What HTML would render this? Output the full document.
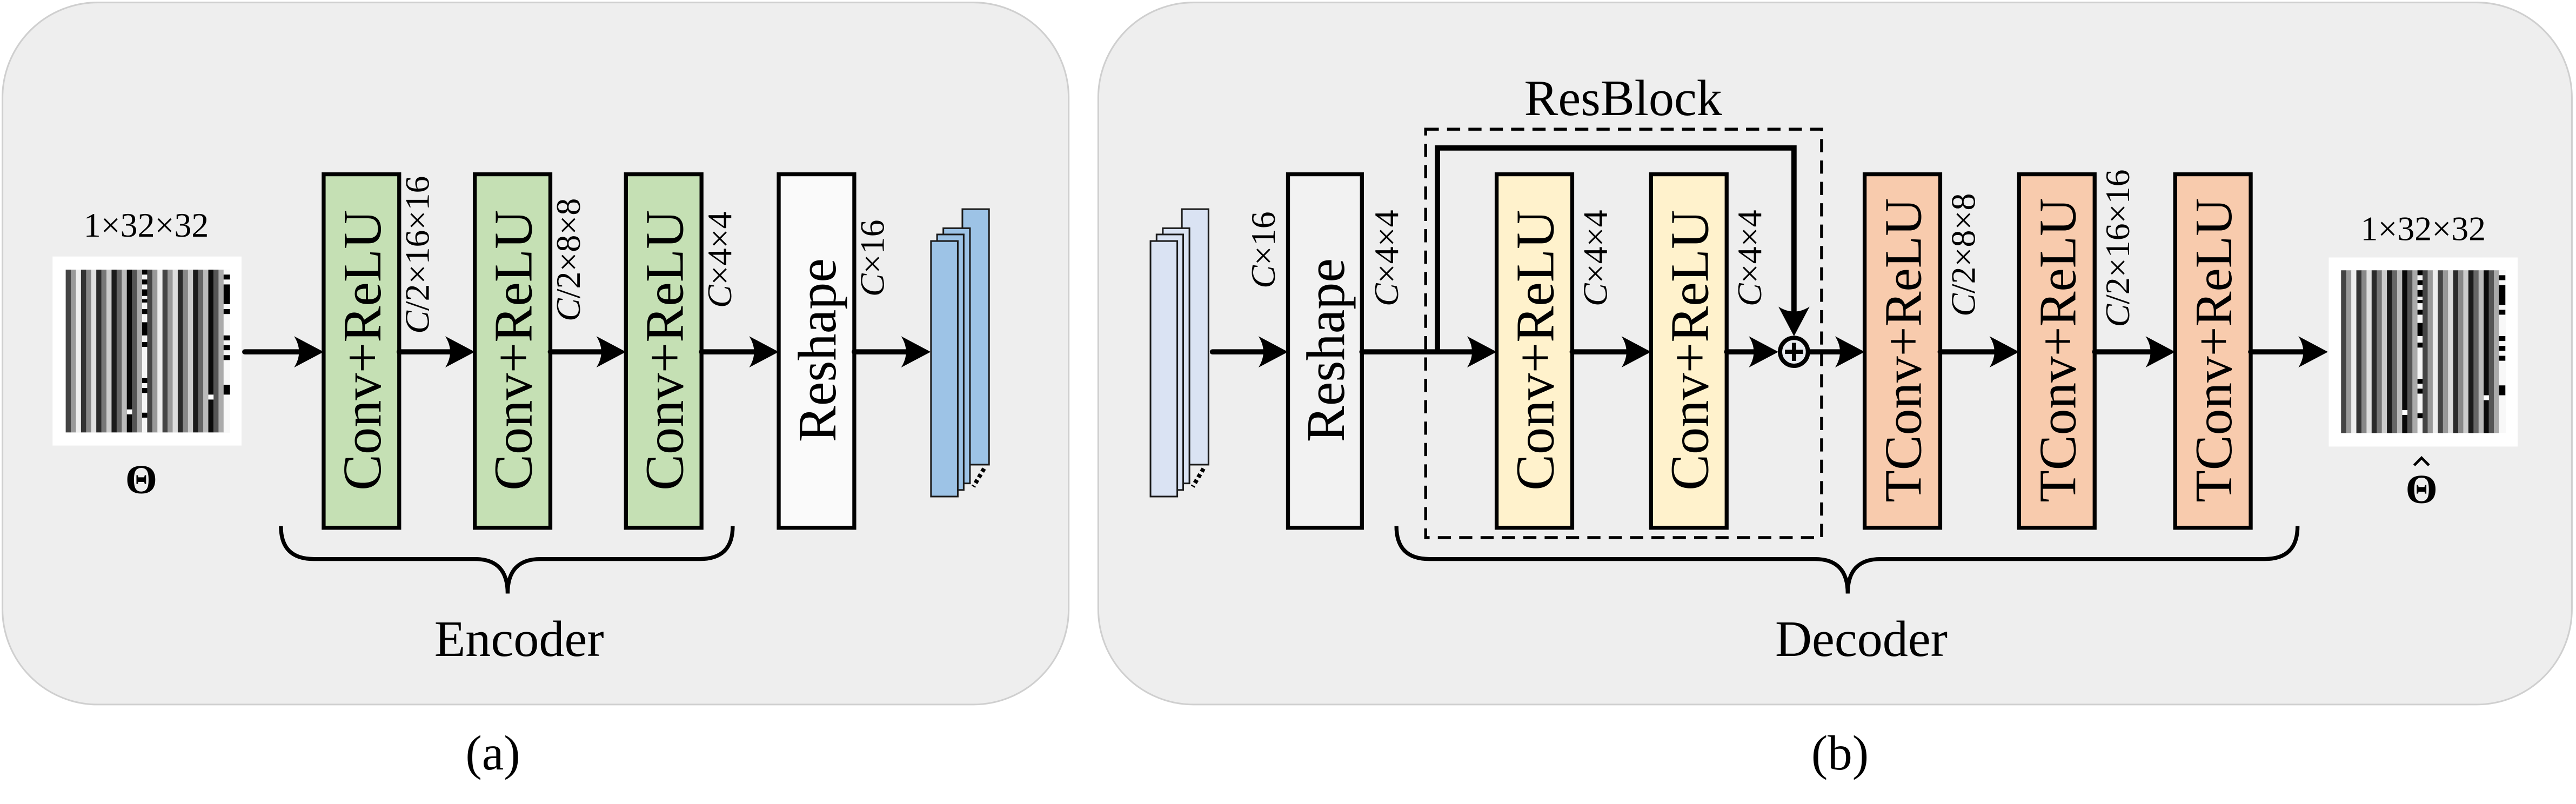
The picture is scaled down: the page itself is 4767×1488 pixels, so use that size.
<!DOCTYPE html>
<html><head><meta charset="utf-8"><style>
html,body{margin:0;padding:0;background:#fff;}
svg{display:block;}
svg text{font-family:"Liberation Serif","Times New Roman",Times,serif;fill:#000;}
</style></head><body>
<svg width="4767" height="1488" viewBox="0 0 1568 489" preserveAspectRatio="none" xmlns="http://www.w3.org/2000/svg" font-family="Liberation Serif, Times New Roman, serif">
<defs>
<path id="ah" d="M0 0 L-18 -9.5 Q-12 0 -18 9.5 Z" fill="#000"/>
<g id="bar">
<rect x="0" y="0" width="100" height="99" fill="#ddd"/>
<rect x="0" y="0" width="3.2" height="99" fill="#444"/>
<rect x="3.1" y="0" width="3.2" height="99" fill="#999"/>
<rect x="6.2" y="0" width="3.2" height="99" fill="#eee"/>
<rect x="9.3" y="0" width="3.2" height="99" fill="#333"/>
<rect x="12.4" y="0" width="3.2" height="99" fill="#888"/>
<rect x="15.5" y="0" width="3.2" height="99" fill="#e0e0e0"/>
<rect x="18.6" y="0" width="3.2" height="99" fill="#2a2a2a"/>
<rect x="21.7" y="0" width="3.2" height="99" fill="#777"/>
<rect x="24.8" y="0" width="3.2" height="99" fill="#ccc"/>
<rect x="27.9" y="0" width="3.2" height="99" fill="#1a1a1a"/>
<rect x="31" y="0" width="3.2" height="99" fill="#666"/>
<rect x="34.1" y="0" width="3.2" height="99" fill="#bbb"/>
<rect x="37.2" y="0" width="3.2" height="99" fill="#080808"/>
<rect x="40.3" y="0" width="3.2" height="99" fill="#555"/>
<rect x="43.4" y="0" width="3.2" height="99" fill="#aaa"/>
<rect x="46.5" y="0" width="3.2" height="99" fill="#f6f6f6"/>
<rect x="46.5" y="0" width="3.2" height="3" fill="#000"/>
<rect x="46.5" y="6" width="3.2" height="3" fill="#000"/>
<rect x="46.5" y="12" width="3.2" height="4" fill="#000"/>
<rect x="46.5" y="18" width="3.2" height="2" fill="#000"/>
<rect x="46.5" y="24" width="3.2" height="3" fill="#000"/>
<rect x="46.5" y="32" width="3.2" height="8" fill="#000"/>
<rect x="46.5" y="44" width="3.2" height="3" fill="#000"/>
<rect x="46.5" y="66" width="3.2" height="3" fill="#000"/>
<rect x="46.5" y="72" width="3.2" height="3" fill="#000"/>
<rect x="46.5" y="87" width="3.2" height="3" fill="#000"/>
<rect x="49.6" y="0" width="3.2" height="99" fill="#444"/>
<rect x="52.7" y="0" width="3.2" height="99" fill="#999"/>
<rect x="55.8" y="0" width="3.2" height="99" fill="#eee"/>
<rect x="58.9" y="0" width="3.2" height="99" fill="#444"/>
<rect x="62" y="0" width="3.2" height="99" fill="#999"/>
<rect x="65.1" y="0" width="3.2" height="99" fill="#ddd"/>
<rect x="68.2" y="0" width="3.2" height="99" fill="#2a2a2a"/>
<rect x="71.3" y="0" width="3.2" height="99" fill="#888"/>
<rect x="74.4" y="0" width="3.2" height="99" fill="#ccc"/>
<rect x="77.5" y="0" width="3.2" height="99" fill="#1a1a1a"/>
<rect x="80.6" y="0" width="3.2" height="99" fill="#666"/>
<rect x="83.7" y="0" width="3.2" height="99" fill="#bbb"/>
<rect x="86.8" y="0" width="3.2" height="99" fill="#0a0a0a"/>
<rect x="89.9" y="0" width="3.2" height="99" fill="#555"/>
<rect x="93" y="0" width="3.2" height="99" fill="#aaa"/>
<rect x="96.1" y="0" width="3.9" height="99" fill="#f8f8f8"/>
<rect x="96.1" y="3" width="3.9" height="3" fill="#000"/>
<rect x="96.1" y="9" width="3.9" height="12" fill="#000"/>
<rect x="96.1" y="24" width="3.9" height="3" fill="#000"/>
<rect x="96.1" y="40" width="3.9" height="3" fill="#000"/>
<rect x="96.1" y="46" width="3.9" height="3" fill="#000"/>
<rect x="96.1" y="52" width="3.9" height="3" fill="#000"/>
<rect x="96.1" y="70" width="3.9" height="6" fill="#000"/>
<rect x="37.2" y="85" width="3.2" height="3" fill="#fff"/>
<rect x="86.8" y="76" width="3.2" height="3" fill="#fff"/>
</g>
</defs>

<rect x="1.5" y="1.5" width="649" height="427" rx="58" fill="#eeeeee" stroke="#cfcfcf" stroke-width="1"/>
<rect x="668.5" y="1.5" width="897" height="427" rx="58" fill="#eeeeee" stroke="#cfcfcf" stroke-width="1"/>

<text x="300" y="468" font-size="30" text-anchor="middle">(a)</text>
<text x="1120" y="468" font-size="30" text-anchor="middle">(b)</text>

<!-- Encoder -->
<rect x="32" y="156" width="115" height="115" fill="#fff"/>
<use href="#bar" x="40" y="164"/>
<text x="89" y="144" font-size="21" text-anchor="middle">1×32×32</text>
<text x="86" y="300" font-size="25" font-weight="bold" text-anchor="middle">Θ</text>

<g stroke="#000" stroke-width="2.4">
<rect x="197" y="106" width="46" height="215" fill="#c5e0b4"/>
<rect x="289" y="106" width="46" height="215" fill="#c5e0b4"/>
<rect x="381" y="106" width="46" height="215" fill="#c5e0b4"/>
<rect x="474" y="106" width="46" height="215" fill="#fafafa"/>
</g>
<g font-size="33" text-anchor="middle">
<text transform="translate(220,213) rotate(-90)" dy="0.35em">Conv+ReLU</text>
<text transform="translate(312,213) rotate(-90)" dy="0.35em">Conv+ReLU</text>
<text transform="translate(404,213) rotate(-90)" dy="0.35em">Conv+ReLU</text>
<text transform="translate(497,213) rotate(-90)" dy="0.35em">Reshape</text>
</g>
<g font-size="21" text-anchor="middle">
<text transform="translate(261,155) rotate(-90)"><tspan font-style="italic">C</tspan>/2×16×16</text>
<text transform="translate(353,158) rotate(-90)"><tspan font-style="italic">C</tspan>/2×8×8</text>
<text transform="translate(445,158) rotate(-90)"><tspan font-style="italic">C</tspan>×4×4</text>
<text transform="translate(538,157) rotate(-90)"><tspan font-style="italic">C</tspan>×16</text>
</g>
<g stroke="#000" stroke-width="3.2" stroke-linecap="round">
<line x1="149" y1="214" x2="190" y2="214"/>
<line x1="243" y1="214" x2="282" y2="214"/>
<line x1="335" y1="214" x2="374" y2="214"/>
<line x1="427" y1="214" x2="467" y2="214"/>
<line x1="520" y1="214" x2="560" y2="214"/>
</g>
<use href="#ah" x="197" y="214"/>
<use href="#ah" x="289" y="214"/>
<use href="#ah" x="381" y="214"/>
<use href="#ah" x="474" y="214"/>
<use href="#ah" x="566.5" y="214"/>

<g fill="#9dc3e6" stroke="#1a1a1a" stroke-width="1">
<rect x="585.8" y="127.2" width="16.2" height="155.4"/>
<rect x="574.2" y="138.8" width="16.2" height="155.2"/>
<rect x="570.4" y="142.6" width="16.2" height="155.4"/>
<rect x="566.7" y="146.6" width="16.3" height="155.4"/>
</g>
<g stroke="#000" stroke-width="2.6" stroke-dasharray="2.2 1.8"><line x1="599" y1="285" x2="592.5" y2="296"/></g>

<path d="M171 320 Q171 340 191 340 L289 340 Q309 340 309 361 Q309 340 329 340 L426 340 Q446 340 446 320" fill="none" stroke="#000" stroke-width="2.4"/>
<text x="316" y="399" font-size="31" text-anchor="middle">Encoder</text>

<!-- Decoder -->
<g fill="#dae3f3" stroke="#1a1a1a" stroke-width="1">
<rect x="719.4" y="127.2" width="16.2" height="155.4"/>
<rect x="707.8" y="138.8" width="16.2" height="155.2"/>
<rect x="704" y="142.6" width="16.2" height="155.4"/>
<rect x="700.3" y="146.6" width="16.3" height="155.4"/>
</g>
<g stroke="#000" stroke-width="2.6" stroke-dasharray="2.2 1.8"><line x1="732.6" y1="285" x2="726" y2="296"/></g>

<rect x="867.8" y="78.6" width="241" height="248.4" fill="none" stroke="#000" stroke-width="1.8" stroke-dasharray="8 5"/>
<text x="988" y="70" font-size="31" text-anchor="middle">ResBlock</text>

<g stroke="#000" stroke-width="2.4">
<rect x="784" y="106" width="45" height="215" fill="#f2f2f2"/>
<rect x="911" y="106" width="46" height="215" fill="#fff2cc"/>
<rect x="1005" y="106" width="46" height="215" fill="#fff2cc"/>
<rect x="1135" y="106" width="46" height="215" fill="#f8cbad"/>
<rect x="1229" y="106" width="46" height="215" fill="#f8cbad"/>
<rect x="1324" y="106" width="46" height="215" fill="#f8cbad"/>
</g>
<g font-size="33" text-anchor="middle">
<text transform="translate(806.5,213) rotate(-90)" dy="0.35em">Reshape</text>
<text transform="translate(934,213) rotate(-90)" dy="0.35em">Conv+ReLU</text>
<text transform="translate(1028,213) rotate(-90)" dy="0.35em">Conv+ReLU</text>
</g>
<g font-size="32" text-anchor="middle">
<text transform="translate(1158,213) rotate(-90)" dy="0.35em">TConv+ReLU</text>
<text transform="translate(1252,213) rotate(-90)" dy="0.35em">TConv+ReLU</text>
<text transform="translate(1347,213) rotate(-90)" dy="0.35em">TConv+ReLU</text>
</g>
<g font-size="21" text-anchor="middle">
<text transform="translate(776,152) rotate(-90)"><tspan font-style="italic">C</tspan>×16</text>
<text transform="translate(851,157) rotate(-90)"><tspan font-style="italic">C</tspan>×4×4</text>
<text transform="translate(978,157) rotate(-90)"><tspan font-style="italic">C</tspan>×4×4</text>
<text transform="translate(1072,157) rotate(-90)"><tspan font-style="italic">C</tspan>×4×4</text>
<text transform="translate(1202,155) rotate(-90)"><tspan font-style="italic">C</tspan>/2×8×8</text>
<text transform="translate(1296,151) rotate(-90)"><tspan font-style="italic">C</tspan>/2×16×16</text>
</g>
<g stroke="#000" stroke-width="3.2" stroke-linecap="round" fill="none">
<line x1="738" y1="214" x2="778" y2="214"/>
<line x1="829" y1="214" x2="905" y2="214"/>
<line x1="957" y1="214" x2="999" y2="214"/>
<line x1="1051" y1="214" x2="1076" y2="214"/>
<line x1="1102" y1="214" x2="1129" y2="214"/>
<line x1="1181" y1="214" x2="1223" y2="214"/>
<line x1="1275" y1="214" x2="1318" y2="214"/>
<line x1="1370" y1="214" x2="1411" y2="214"/>
<polyline points="875,214 875,90 1092,90 1092,198" stroke-linecap="butt" stroke-linejoin="miter"/>
</g>
<use href="#ah" x="784" y="214"/>
<use href="#ah" x="911" y="214"/>
<use href="#ah" x="1005" y="214"/>
<use href="#ah" x="1082.5" y="214"/>
<use href="#ah" x="1135" y="214"/>
<use href="#ah" x="1229" y="214"/>
<use href="#ah" x="1324" y="214"/>
<use href="#ah" x="1417" y="214"/>
<use href="#ah" transform="translate(1092,204.5) rotate(90)"/>
<circle cx="1092" cy="214" r="8.5" fill="#e8ebf0" stroke="#000" stroke-width="2.6"/>
<path d="M1092 208.5 V219.5 M1086.5 214 H1097.5" stroke="#000" stroke-width="2.6"/>

<path d="M850 320 Q850 340 870 340 L1104.7 340 Q1124.7 340 1124.7 361 Q1124.7 340 1144.7 340 L1378.5 340 Q1398.5 340 1398.5 320" fill="none" stroke="#000" stroke-width="2.4"/>
<text x="1133" y="399" font-size="31" text-anchor="middle">Decoder</text>

<rect x="1417.5" y="156.6" width="115" height="115" fill="#fff"/>
<use href="#bar" x="1425" y="164.4"/>
<text x="1475" y="146" font-size="21" text-anchor="middle">1×32×32</text>
<text x="1474" y="306" font-size="25" font-weight="bold" text-anchor="middle">Θ</text>
<path d="M1469.5 283 L1474 278.5 L1478.5 283" fill="none" stroke="#000" stroke-width="1.6"/>
</svg>
</body></html>
